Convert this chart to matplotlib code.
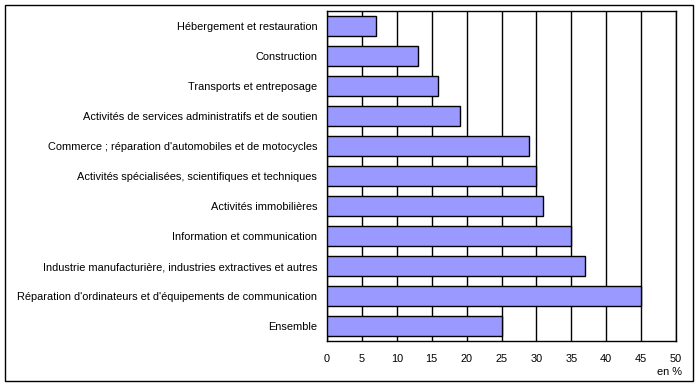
import matplotlib.pyplot as plt
from matplotlib.patches import Rectangle

plt.rcParams['font.family'] = ['Liberation Sans', 'DejaVu Sans']

# categories from top to bottom
categories = ["Hébergement et restauration",
              "Construction",
              "Transports et entreposage",
              "Activités de services administratifs et de soutien",
              "Commerce ; réparation d'automobiles et de motocycles",
              "Activités spécialisées, scientifiques et techniques",
              "Activités immobilières",
              "Information et communication",
              "Industrie manufacturière, industries extractives et autres",
              "Réparation d'ordinateurs et d'équipements de communication",
              "Ensemble"]
values = [7.0, 13.1, 15.9, 19.0, 28.9, 30.0, 31.0, 35.0, 36.9, 45.0, 25.1]
xticks = [0, 5, 10, 15, 20, 25, 30, 35, 40, 45, 50]

W, H = 700, 387
fs = 7.9
fig = plt.figure(figsize=(W / 100, H / 100), dpi=100)
# plot area in pixel coords: x 327..676, y 11..341
ax = fig.add_axes([327 / W, 1 - 341 / H, (676 - 327) / W, (341 - 11) / H])

pos = list(range(len(categories)))
ax.barh(pos, values, height=0.667, color='#9999FF', edgecolor='black',
        linewidth=1, zorder=3)
ax.set_ylim(len(categories) - 0.5, -0.5)
ax.set_xlim(0, 50)
ax.set_xticks(xticks)
ax.set_yticks(pos)
ax.set_yticklabels(categories)
ax.tick_params(axis='both', length=0, labelsize=fs)
ax.tick_params(axis='y', pad=7)
ax.tick_params(axis='x', pad=9)
ax.grid(axis='x', color='black', linewidth=1, zorder=0)
for s in ax.spines.values():
    s.set_linewidth(1)
    s.set_color('black')

fig.text(682 / W, 1 - 372 / H, 'en %', ha='right', va='center', fontsize=fs)

# outer frame
fig.patches.append(Rectangle((5 / W, 1 - 381 / H), (693 - 5) / W, (381 - 5) / H,
                             transform=fig.transFigure, fill=False,
                             edgecolor='black', linewidth=1))

fig.savefig('out.png', dpi=100)
